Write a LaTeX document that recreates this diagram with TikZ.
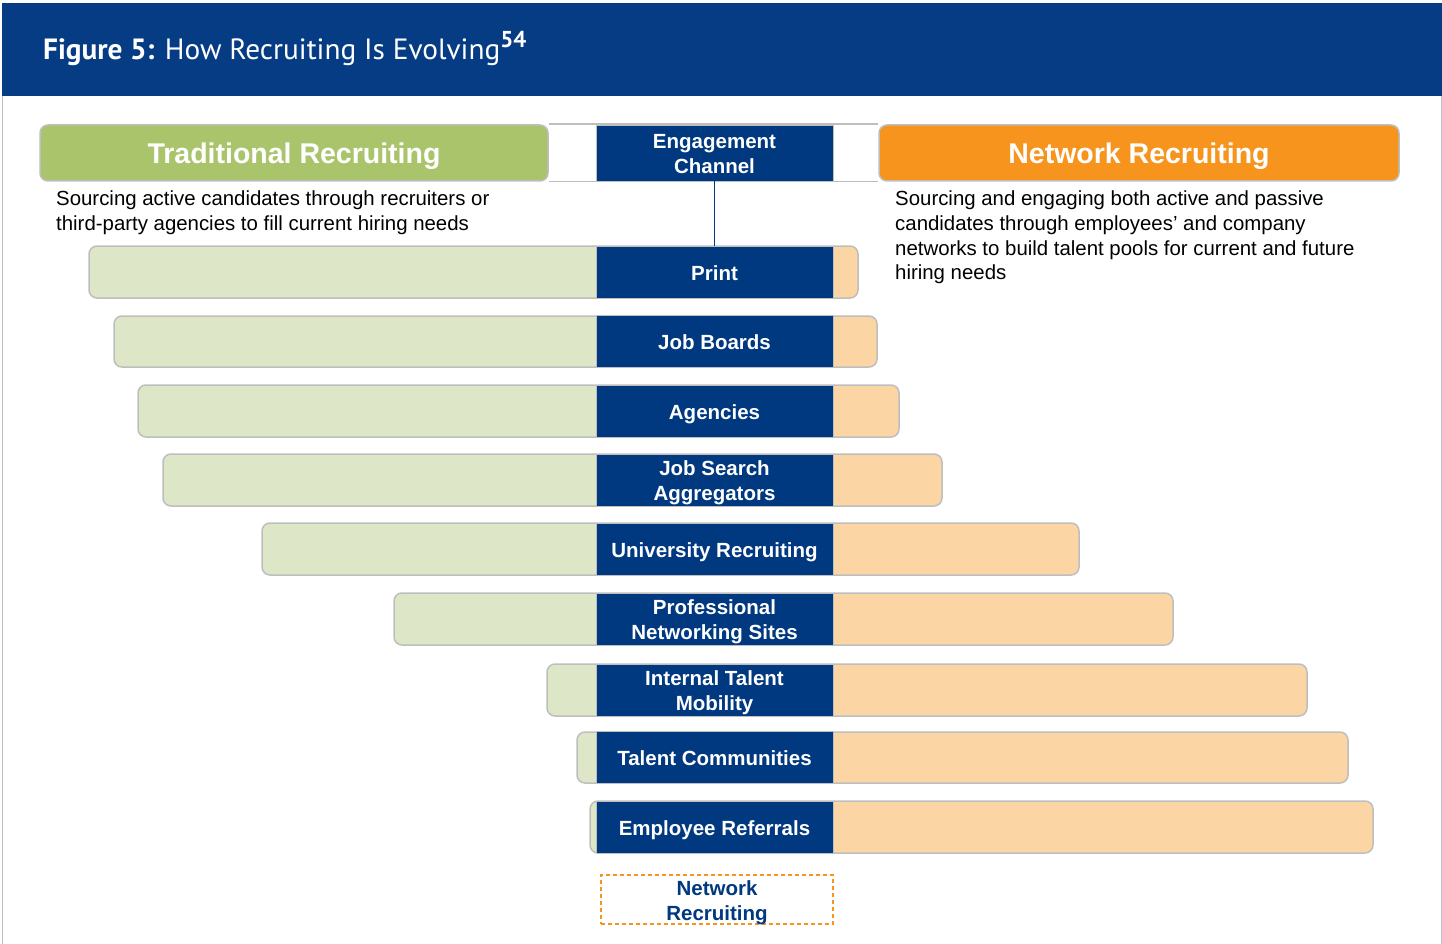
\documentclass[tikz,border=0pt]{standalone}
\usepackage{fontspec}
\setmainfont{Liberation Sans}
\newfontfamily\headfont{PT Sans}
\definecolor{hdrblue}{RGB}{6,60,132}
\definecolor{chblue}{RGB}{0,57,128}
\definecolor{tgreen}{RGB}{170,196,108}
\definecolor{lgreen}{RGB}{221,230,198}
\definecolor{norange}{RGB}{247,148,30}
\definecolor{lorange}{RGB}{252,213,165}
\definecolor{edgegray}{RGB}{190,190,190}
\begin{document}
\begin{tikzpicture}[x=1pt,y=-1pt,
  hbox/.style={draw=edgegray, line width=1.5pt, rounded corners=8pt,
    minimum height=56pt, inner sep=0pt},
  htext/.style={text=white, font=\fontsize{28.5}{32}\selectfont\bfseries, yshift=-3pt, inner sep=0pt},
  chan/.style={fill=chblue, draw=edgegray, line width=0.8pt,
    minimum width=237pt, minimum height=52pt, inner sep=0pt},
  ctext/.style={text=white, font=\fontsize{20.5}{25}\selectfont\bfseries, align=center,
    inner sep=0pt},
  barbox/.style={draw=edgegray, line width=1.5pt, rounded corners=8pt},
  desc/.style={anchor=north west, align=left, inner sep=0pt,
    font=\fontsize{20.4}{24.6}\selectfont}]
\useasboundingbox (0,0) rectangle (1442,944);
% frame and header
\draw[edgegray, line width=1pt] (2,96) -- (2,944);
\draw[edgegray, line width=1pt] (1441,96) -- (1441,944);
\fill[hdrblue] (2,3) rectangle (1442,96);
\node[anchor=base west, inner sep=0pt, text=white, font=\headfont\fontsize{29.3}{34}\selectfont] (title) at (43,60)
  {\textbf{Figure 5:} How Recruiting Is Evolving\raisebox{12pt}{\fontsize{23}{23}\selectfont\bfseries 54}};
% top band
\node[hbox, fill=tgreen, minimum width=508pt,
  label={[htext]center:Traditional Recruiting}] (trad) at (294,153) {};
\node[hbox, fill=norange, minimum width=520pt,
  label={[htext]center:Network Recruiting}] (net) at (1139,153) {};
\draw[edgegray, line width=1.5pt] (trad.north east) -- (net.north west);
\draw[edgegray, line width=1.5pt] (trad.south east) -- (net.south west);
\node[chan, minimum height=56pt, label={[ctext, yshift=-1.5pt]center:{Engagement\\Channel}}] (eng) at (714.5,153) {};
% descriptions
\node[desc] (dleft) at (56,191) {Sourcing active candidates through recruiters or\\third-party agencies to fill current hiring needs};
\node[desc] (dright) at (895,191) {Sourcing and engaging both active and passive\\candidates through employees’ and company\\networks to build talent pools for current and future\\hiring needs};
% rows
\foreach \i/\t/\b/\L/\R/\dy/\lab in {
  1/246/298/89/858/-1/{Print},
  2/316/367/114/877/-1/{Job Boards},
  3/385/437/138/899/-3.5/{Agencies},
  4/454/506/163/942/-2.5/{Job Search\\Aggregators},
  5/523/575/262/1079/-3.5/{University Recruiting},
  6/593/645/394/1173/-2.5/{Professional\\Networking Sites},
  7/664/716/547/1307/-2.5/{Internal Talent\\Mobility},
  8/732/783/577/1348/-1/{Talent Communities},
  9/801/853/590/1373/-3.5/{Employee Referrals}}{
  \fill[lorange, rounded corners=8pt] (\L,\t) rectangle (\R,\b);
  \fill[lgreen, rounded corners=8pt] (\L,\t) rectangle (700,\b);
  \draw[barbox] (\L,\t) rectangle (\R,\b);
  \node[chan, label={[ctext, yshift=\dy pt]center:{\lab}}] (ch\i) at (714.5,{(\t+\b)/2}) {};
}
\draw[chblue, line width=1.3pt] (eng.south) -- (ch1.north);
% legend box
\node[draw=norange, dashed, dash pattern=on 4pt off 3pt, line width=1.2pt,
  minimum width=232pt, minimum height=49pt, inner sep=0pt,
  label={[ctext, text=chblue, yshift=-3.5pt]center:{Network\\Recruiting}}] (legend) at (717,899.5) {};
\end{tikzpicture}
\end{document}
